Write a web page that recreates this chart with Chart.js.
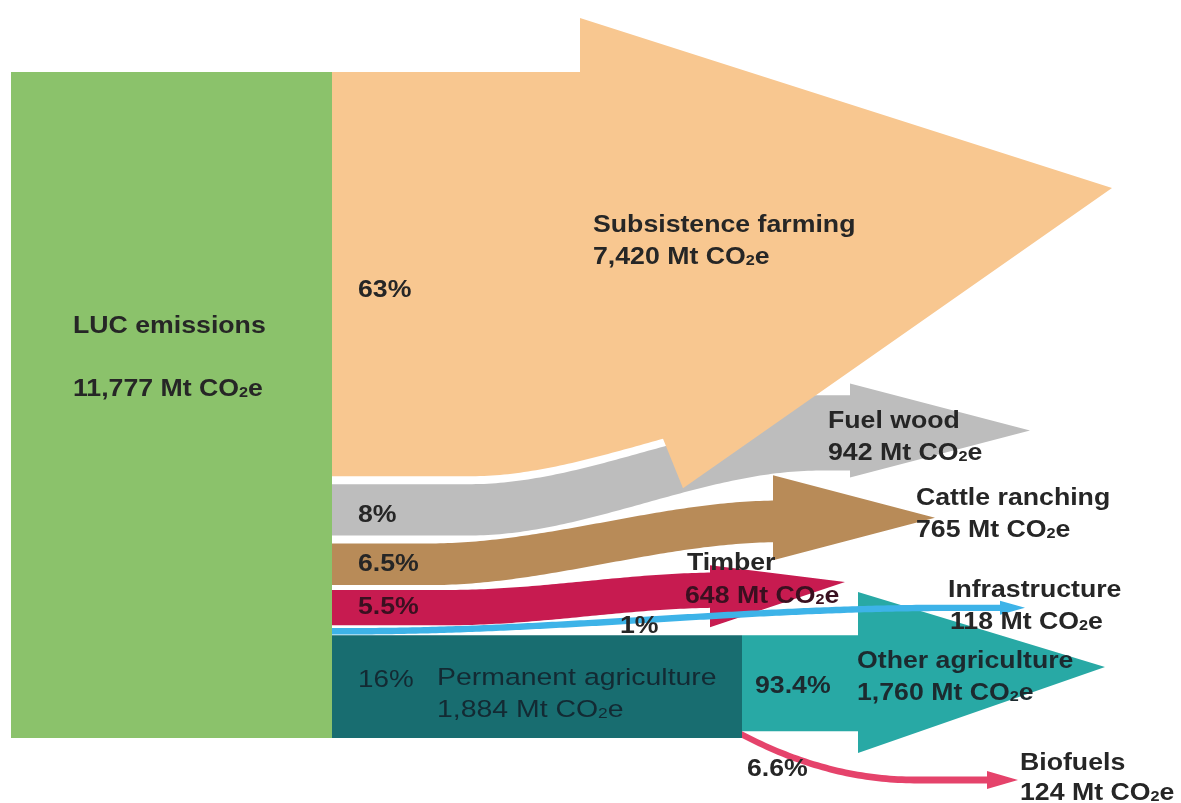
<!DOCTYPE html>
<html>
<head>
<meta charset="utf-8">
<script src="https://cdn.jsdelivr.net/npm/chart.js@4.4.0/dist/chart.umd.min.js"></script>
<style>
html,body{margin:0;padding:0;background:#fff;}
#wrap{width:1181px;height:803px;position:relative;}
</style>
</head>
<body>
<div id="wrap"><canvas id="c"></canvas></div>
<script>
// ---------------- data ----------------
const sourceLabel = 'LUC emissions';
const sourceTotal = 11777;
const categories = ['Subsistence farming', 'Fuel wood', 'Cattle ranching', 'Timber', 'Infrastructure', 'Permanent agriculture'];
const values = [7420, 942, 765, 648, 118, 1884];
const shares = ['63%', '8%', '6.5%', '5.5%', '1%', '16%'];
const subCategories = ['Other agriculture', 'Biofuels'];
const subValues = [1760, 124];
const subShares = ['93.4%', '6.6%'];
const unitText = 'Mt CO2e';

// ---------------- style ----------------
const sourceColor = '#8BC26B';
const colors = ['#F8C790', '#BDBDBD', '#B88B58', '#C71B50', '#3DB3E8', '#186D70'];
const subColors = ['#28A9A5', '#E5436B'];
const textColor = '#262626';

// ---------------- layout (x in layout units, lifts in Mt) ----------------
const X_SRC0 = 11, X_SRC1 = 332, X_SPLIT = 742;
const Y_MIN = -1150, Y_MAX = 13050;
const GAPS = [140, 140, 85, 50, 15];
const orangeLayout = { xHead: 580, headAbove: 955, xTip: 1112, tipBelowTop: 2051, xNotch: 663, xBarb: 683, barbBelow: 213 };
const flowLayout = [
  null,
  { xa: 470, xb: 820, xEnd: 850, xTip: 1030, liftB: 1149, grow: 424, gxa: 690, gxb: 820, headShift: 255, headHalf: 831, tipShift: 0 },
  { xa: 430, xb: 780, xEnd: 773, xTip: 935, liftB: 759, grow: 0, headShift: 62, headHalf: 752, tipShift: 0 },
  { xa: 450, xb: 720, xEnd: 710, xTip: 845, liftB: 308, grow: 0, headShift: -106, headHalf: 548, tipShift: 248 },
  { xa: 350, xb: 950, xEnd: 1000, xTip: 1025, liftB: 414, grow: 0, headShift: 0, headHalf: 124, tipShift: 0 },
  null
];
const subLayout = [
  { xStart: X_SPLIT, xa: X_SPLIT, xb: 858, xEnd: 858, xTip: 1105, liftB: 0, grow: 0, headShift: 191, headHalf: 1423, tipShift: 97 },
  { xStart: X_SPLIT, xa: X_SPLIT, xb: 915, ease: 'out', xEnd: 987, xTip: 1018, liftB: -803, grow: 0, headShift: 0, headHalf: 159, tipShift: 0 }
];

// ---------------- geometry from values ----------------
const gapSum = GAPS.reduce((a, b) => a + b, 0);
const k = (sourceTotal - gapSum) / sourceTotal;
const bands = [];
let cur = sourceTotal;
values.forEach((v, i) => {
  const top = cur, bot = cur - v * k;
  bands.push({ top, bot });
  cur = bot - (GAPS[i] || 0);
});
const pa = bands[5];
const paThick = pa.top - pa.bot;
const subBands = [];
let sc = pa.top;
subValues.forEach(v => {
  const top = sc, bot = sc - v / values[5] * paThick;
  subBands.push({ top, bot });
  sc = bot;
});

const clamp = t => Math.max(0, Math.min(1, t));
const smooth = t => { t = clamp(t); return t * t * (3 - 2 * t); };
const easeOut = t => { t = clamp(t); return 1 - (1 - t) * (1 - t); };
function ease(L, x) {
  const t = (x - L.xa) / (L.xb - L.xa);
  return L.ease === 'out' ? easeOut(t) : smooth(t);
}
function growAt(L, x) {
  if (!L.grow) return 0;
  return L.grow * smooth((x - L.gxa) / (L.gxb - L.gxa));
}
function xs(a, b, step) {
  const out = [];
  for (let x = a; x < b; x += step) out.push(x);
  out.push(b);
  return out;
}
function bandEdges(band, L, x) {
  const e = L.liftB * ease(L, x);
  return { top: band.top + e + growAt(L, x), bot: band.bot + e, baseTop: band.top + e };
}
function arrowPolygon(band, L, xStart) {
  const pts = [];
  const sx = xs(xStart, L.xEnd, 4);
  sx.forEach(x => pts.push({ x, y: bandEdges(band, L, x).top }));
  const cEnd = (band.top + band.bot) / 2 + L.liftB;
  const hc = cEnd + L.headShift;
  pts.push({ x: L.xEnd, y: hc + L.headHalf });
  pts.push({ x: L.xTip, y: hc + L.tipShift });
  pts.push({ x: L.xEnd, y: hc - L.headHalf });
  sx.slice().reverse().forEach(x => pts.push({ x, y: bandEdges(band, L, x).bot }));
  return pts;
}
function orangePolygon() {
  const b = bands[0], O = orangeLayout;
  const gray = bands[1], GL = flowLayout[1];
  const pts = [];
  pts.push({ x: X_SRC1, y: b.top });
  pts.push({ x: O.xHead, y: b.top });
  pts.push({ x: O.xHead, y: b.top + O.headAbove });
  pts.push({ x: O.xTip, y: b.top - O.tipBelowTop });
  pts.push({ x: O.xBarb, y: b.bot - O.barbBelow });
  xs(X_SRC1, O.xNotch, 4).reverse().forEach(x => pts.push({ x, y: bandEdges(gray, GL, x).baseTop + GAPS[0] }));
  return pts;
}
function rectPolygon(x0, x1, y0, y1) {
  return [{ x: x0, y: y0 }, { x: x0, y: y1 }, { x: x1, y: y1 }, { x: x1, y: y0 }];
}

function shapeDataset(label, data, color, order) {
  return {
    label, data, order,
    backgroundColor: color, borderColor: color,
    borderWidth: 0, borderDash: [4, 4], pointRadius: 0, tension: 0,
    fill: 'shape', showLine: true
  };
}

const datasets = [
  shapeDataset(sourceLabel, rectPolygon(X_SRC0, X_SRC1, 0, sourceTotal), sourceColor, 20),
  shapeDataset(categories[1], arrowPolygon(bands[1], flowLayout[1], X_SRC1), colors[1], 19),
  shapeDataset(categories[2], arrowPolygon(bands[2], flowLayout[2], X_SRC1), colors[2], 18),
  shapeDataset(categories[3], arrowPolygon(bands[3], flowLayout[3], X_SRC1), colors[3], 17),
  shapeDataset(categories[5], rectPolygon(X_SRC1, X_SPLIT, pa.bot, pa.top), colors[5], 16),
  shapeDataset(subCategories[0], arrowPolygon(subBands[0], subLayout[0], X_SPLIT), subColors[0], 15),
  shapeDataset(subCategories[1], arrowPolygon(subBands[1], subLayout[1], X_SPLIT), subColors[1], 14),
  shapeDataset(categories[0], orangePolygon(), colors[0], 13),
  shapeDataset(categories[4], arrowPolygon(bands[4], flowLayout[4], X_SRC1), colors[4], 12)
];

// ---------------- labels ----------------
const fmt = v => v.toLocaleString('en-US');
const amount = v => fmt(v) + ' ' + unitText;
const XS = 1.16;
const FONT = '"Liberation Sans", Arial, Helvetica, sans-serif';
const labels = [
  { t: sourceLabel, x: 73, y: 333 },
  { t: amount(sourceTotal), x: 73, y: 396 },
  { t: shares[0], x: 358, y: 297 },
  { t: categories[0], x: 593, y: 232 },
  { t: amount(values[0]), x: 593, y: 264 },
  { t: shares[1], x: 358, y: 522 },
  { t: categories[1], x: 828, y: 428 },
  { t: amount(values[1]), x: 828, y: 460 },
  { t: shares[2], x: 358, y: 571 },
  { t: categories[2], x: 916, y: 505 },
  { t: amount(values[2]), x: 916, y: 537 },
  { t: shares[3], x: 358, y: 614, c: '#3a1020' },
  { t: categories[3], x: 687, y: 570 },
  { t: amount(values[3]), x: 685, y: 603, c: '#3a1020' },
  { t: shares[4], x: 620, y: 633 },
  { t: categories[4], x: 948, y: 597 },
  { t: amount(values[4]), x: 950, y: 629 },
  { t: shares[5], x: 358, y: 687, w: 'normal', s: 24, c: '#132a33' },
  { t: categories[5], x: 437, y: 685, w: 'normal', s: 24.5, c: '#132a33' },
  { t: amount(values[5]), x: 437, y: 717, w: 'normal', s: 24.5, c: '#132a33' },
  { t: subShares[0], x: 755, y: 693, c: '#1c2a2f' },
  { t: subCategories[0], x: 857, y: 668, c: '#1c2a2f' },
  { t: amount(subValues[0]), x: 857, y: 700, c: '#1c2a2f' },
  { t: subShares[1], x: 747, y: 776 },
  { t: subCategories[1], x: 1020, y: 770 },
  { t: amount(subValues[1]), x: 1020, y: 800 }
];

function drawLabel(ctx, L) {
  const size = L.s || 23, weight = L.w || 'bold';
  const main = `${weight} ${size}px ${FONT}`;
  const small = `${weight} ${Math.round(size * 0.62)}px ${FONT}`;
  ctx.save();
  ctx.translate(L.x, L.y);
  ctx.scale(XS, 1);
  ctx.fillStyle = L.c || textColor;
  ctx.textBaseline = 'alphabetic';
  ctx.textAlign = 'left';
  const parts = L.t.split('CO2e');
  let cx = 0;
  parts.forEach((p, i) => {
    ctx.font = main;
    ctx.fillText(p, cx, 0);
    cx += ctx.measureText(p).width;
    if (i < parts.length - 1) {
      ctx.fillText('CO', cx, 0);
      cx += ctx.measureText('CO').width;
      ctx.font = small;
      ctx.fillText('2', cx, 1);
      cx += ctx.measureText('2').width;
      ctx.font = main;
      ctx.fillText('e', cx, 0);
      cx += ctx.measureText('e').width;
    }
  });
  ctx.restore();
}

const labelPlugin = {
  id: 'flowLabels',
  afterDraw(chart) {
    const ctx = chart.ctx;
    labels.forEach(L => drawLabel(ctx, L));
  }
};

new Chart(document.getElementById('c'), {
  type: 'line',
  data: { datasets },
  options: {
    responsive: true,
    maintainAspectRatio: false,
    animation: false,
    devicePixelRatio: 1,
    events: [],
    layout: { padding: 0 },
    scales: {
      x: { type: 'linear', min: 0, max: 1181, display: false },
      y: { type: 'linear', min: Y_MIN, max: Y_MAX, display: false }
    },
    plugins: { legend: { display: false }, tooltip: { enabled: false } },
    elements: { point: { radius: 0 }, line: { borderWidth: 0, tension: 0 } }
  },
  plugins: [labelPlugin]
});
</script>
</body>
</html>
